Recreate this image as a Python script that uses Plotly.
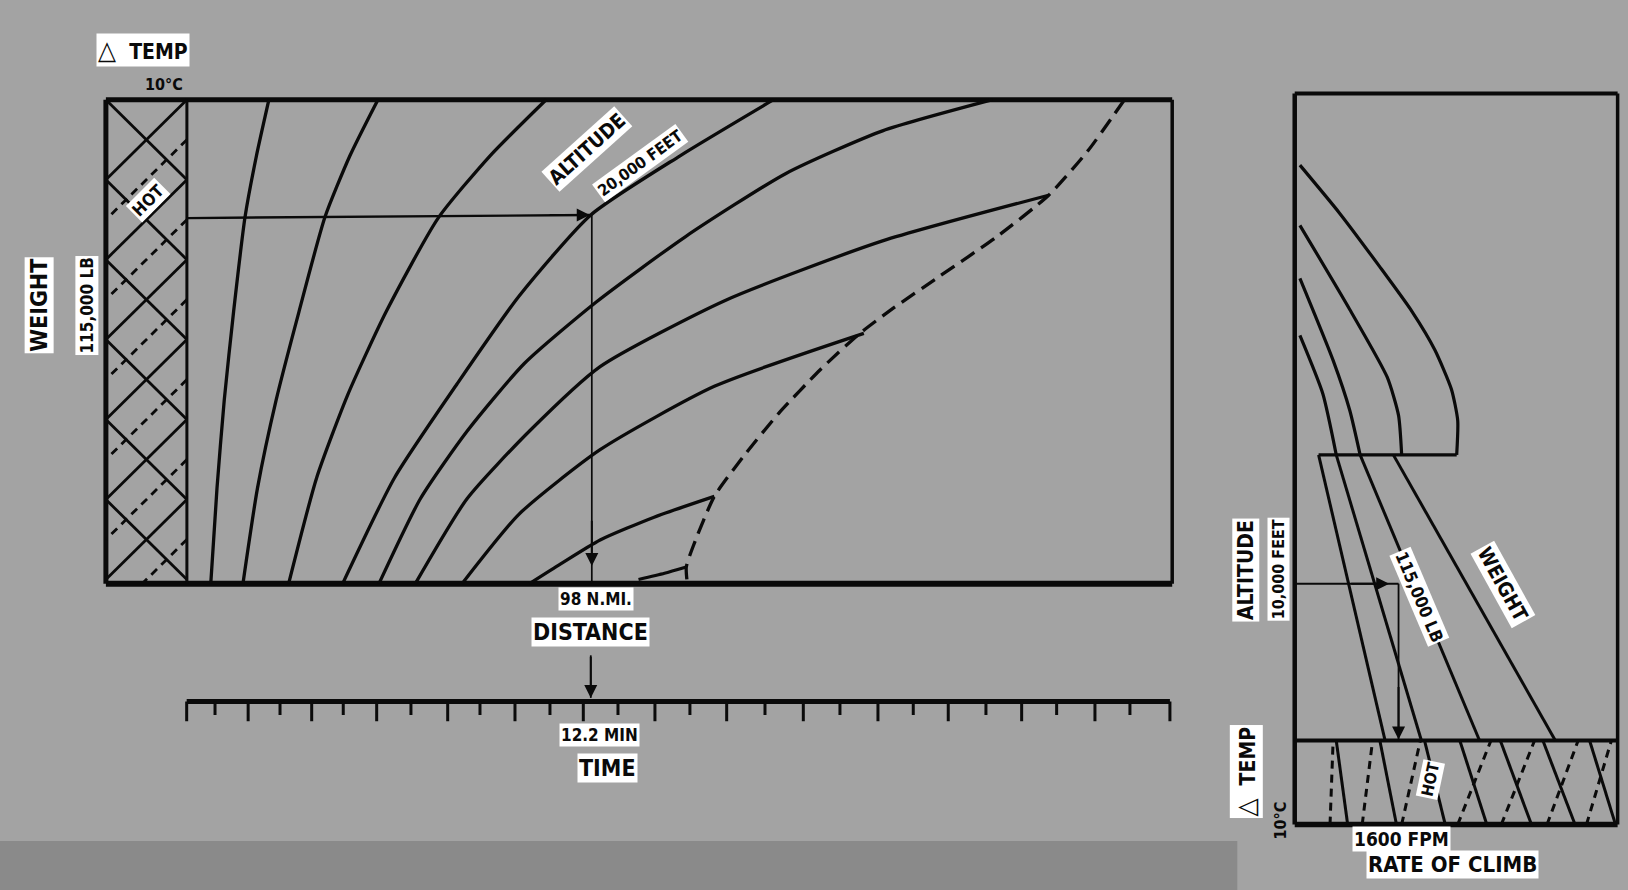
import plotly.graph_objects as go

BG = "#a3a3a3"
INK = "#0a0a0a"
FONT = "DejaVu Sans Condensed, Liberation Sans, Arial"

# ---------------- main chart (distance vs weight plane, picture units) ----------------
main_box_x = [102, 1129]
main_box_y = [96, 562]
temp_strip_x = [102, 180]
left_hatch_y = [96, 173, 250, 327, 404, 481, 558]      # where the hatch lines meet the strip edges

# altitude curves (solid), listed bottom -> top
c1_x = [203, 209, 216, 225, 236, 247, 259]
c1_y = [562, 470, 385, 300, 209, 150, 96]
c2_x = [234, 248, 266, 288, 313, 337, 364]
c2_y = [562, 470, 385, 300, 209, 150, 96]
c3_x = [278, 305, 335, 372, 422, 472, 526]
c3_y = [562, 460, 380, 300, 210, 150, 96]
c4_x = [330, 380, 440, 500, 569, 655, 745]
c4_y = [562, 460, 370, 285, 207, 150, 96]
c5_x = [365, 405, 450, 505, 574, 660, 757, 850, 956]
c5_y = [562, 480, 415, 350, 291, 228, 167, 126, 96]
c6_x = [400, 450, 510, 578, 699, 850, 1010]
c6_y = [562, 480, 415, 353, 289, 232, 188]
c7_x = [445, 500, 578, 688, 832]
c7_y = [562, 495, 433, 372, 321]
c8_x = [510, 540, 578, 630, 688]
c8_y = [562, 543, 520, 498, 478]
c9_x = [615, 640, 661]
c9_y = [558, 552, 546]
limit_x = [1083, 1048, 1010, 960, 905, 860, 827, 790, 750, 718, 688, 668, 661, 662]
limit_y = [96, 145, 188, 228, 266, 297, 322, 356, 398, 437, 478, 525, 546, 562]

# example path: weight -> altitude -> distance -> time
ex_weight_y = [210, 207]
ex_weight_x = [180, 568]
ex_dist_x = 570
dist_label_y = [631, 672]

# time scale
time_line_y = 675.5
time_ticks = [179.8, 207.1, 239.0, 269.7, 300.2, 330.6, 362.8, 395.8, 431.2, 462.3,
              496.0, 529.7, 561.8, 595.2, 630.8, 664.5, 699.9, 736.8, 773.7, 809.0,
              845.6, 879.6, 913.3, 949.6, 984.0, 1017.7, 1054.6, 1088.3, 1126.8]

# ---------------- right chart (rate of climb) ----------------
right_box_x = [1247, 1558]
right_box_y = [90, 794]
right_strip_top = 713
turn_y = 438
turn_x = [1270, 1403]
r1_x = [1252, 1290, 1329, 1360, 1382, 1398, 1404, 1403]
r1_y = [159, 205, 257, 300, 337, 375, 405, 438]
r2_x = [1252, 1300, 1336, 1347, 1350]
r2_y = [217, 298, 363, 400, 438]
r3_x = [1252, 1284, 1300, 1310]
r3_y = [268, 347, 395, 438]
r4_x = [1252, 1274, 1287]
r4_y = [323, 379, 438]
w_top_x = [1270, 1287, 1310, 1342]
w_bot_x = [1334, 1369, 1425, 1498]
strip_solid_top = [1287, 1329, 1372, 1406, 1445, 1486, 1531]
strip_solid_bot = [1298, 1345, 1392, 1432, 1475, 1517, 1556]
strip_dash_bot = [1281, 1312, 1350, 1404, 1446, 1490, 1528]
strip_dash_top = [1284, 1322, 1368, 1436, 1478, 1520, 1552]
ex_alt_y = 562
ex_roc_x = 1347

fig = go.Figure()


def line(x, y, w=2.6, dash="solid", spline=False):
    fig.add_trace(go.Scatter(
        x=x, y=y, mode="lines", hoverinfo="skip", showlegend=False,
        line=dict(color=INK, width=w, dash=dash, shape="spline" if spline else "linear",
                  smoothing=0.6)))


# main frame
bx0, bx1 = main_box_x
by0, by1 = main_box_y
line([bx0, bx1], [by0, by0], 5)
line([bx0, bx1], [by1, by1], 6)
line([bx0, bx0], [by0, by1], 5)
line([bx1, bx1], [by0, by1], 3.5)
line([temp_strip_x[1]] * 2, [by0, by1], 3)

# left temperature strip hatch
sx0, sx1 = temp_strip_x
for i in range(len(left_hatch_y) - 1):
    ya, yb = left_hatch_y[i], left_hatch_y[i + 1]
    if i % 2 == 0:
        line([sx0, sx1], [ya, yb], 2.8)
        line([sx1, sx0], [ya, yb], 2.8)
    else:
        line([sx1, sx0], [ya, yb], 2.8)
        line([sx0, sx1], [ya, yb], 2.8)
    ym = (ya + yb) / 2
    yn = min(ym + (yb - ya), by1)
    xn = sx1 - (yn - ym) / (yb - ya) * (sx1 - sx0)
    line([sx1, xn], [ym, yn], 2.8, dash="8px,6px")

# altitude curves
for cx, cy in [(c1_x, c1_y), (c2_x, c2_y), (c3_x, c3_y), (c4_x, c4_y), (c5_x, c5_y),
               (c6_x, c6_y), (c7_x, c7_y), (c8_x, c8_y), (c9_x, c9_y)]:
    line(cx, cy, 3.3, spline=True)
line(limit_x, limit_y, 3.3, dash="16px,8px", spline=True)

# example path in main chart
line(ex_weight_x, ex_weight_y, 2.4)
line([ex_dist_x, ex_dist_x], [ex_weight_y[1], by1], 1.7)

# time scale
line([time_ticks[0], time_ticks[-1]], [time_line_y, time_line_y], 5)
for i, t in enumerate(time_ticks):
    line([t, t], [time_line_y, time_line_y + (19 if i % 2 == 0 else 13)], 3)
line([ex_dist_x - 1, ex_dist_x - 1], dist_label_y, 1.7)

# right frame
rx0, rx1 = right_box_x
ry0, ry1 = right_box_y
line([rx0, rx1], [ry0, ry0], 4)
line([rx0, rx1], [ry1, ry1], 5.5)
line([rx0, rx0], [ry0, ry1], 4.5)
line([rx1, rx1], [ry0, ry1], 3.5)
line([rx0, rx1], [right_strip_top, right_strip_top], 4)

for cx, cy in [(r1_x, r1_y), (r2_x, r2_y), (r3_x, r3_y), (r4_x, r4_y)]:
    line(cx, cy, 3.2, spline=True)
line(turn_x, [turn_y, turn_y], 3.2)
for a, b in zip(w_top_x, w_bot_x):
    line([a, b], [turn_y, right_strip_top], 3)
for a, b in zip(strip_solid_top, strip_solid_bot):
    line([a, b], [right_strip_top, ry1], 3)
for a, b in zip(strip_dash_bot, strip_dash_top):
    line([a, b], [ry1, right_strip_top], 3, dash="8px,6px")

line([rx0, ex_roc_x], [ex_alt_y, ex_alt_y], 2)
line([ex_roc_x, ex_roc_x], [ex_alt_y, right_strip_top], 1.8)

# arrowheads
arrows = [
    (ex_weight_x[1], ex_weight_y[1], ex_weight_x[1] - 40, ex_weight_y[1]),
    (ex_dist_x, 545, ex_dist_x, 500),
    (ex_dist_x - 1, dist_label_y[1], ex_dist_x - 1, dist_label_y[0]),
    (1338, ex_alt_y, 1300, ex_alt_y),
    (ex_roc_x, 712, ex_roc_x, 660),
]
annos = []
for hx, hy, tx, ty in arrows:
    annos.append(dict(x=hx, y=hy, ax=tx, ay=ty, xref="x", yref="y", axref="x", ayref="y",
                      text="", showarrow=True, arrowhead=2, arrowsize=1.3, arrowwidth=2,
                      arrowcolor=INK, standoff=0))

TRI = "<span style='font-size:26px'>△</span>"
# labels (text, x, y, size, angle, white box)
labels = [
    (TRI + "  TEMP", 138, 48, 21, 0, True),
    ("10°C", 158, 81, 16, 0, False),
    ("WEIGHT", 38, 294, 23, -90, True),
    ("115,000 LB", 84, 294, 17, -90, True),
    ("HOT", 143, 193, 17, -45, True),
    ("ALTITUDE", 565, 143, 20, -42, True),
    ("20,000 FEET", 616, 157, 16, -36, True),
    ("98 N.MI.", 574, 577, 17, 0, True),
    ("DISTANCE", 569, 609, 23, 0, True),
    ("12.2 MIN", 577, 708, 17, 0, True),
    ("TIME", 585, 740, 23, 0, True),
    ("ALTITUDE", 1200, 549, 21, -90, True),
    ("10,000 FEET", 1231, 548, 16, -90, True),
    (TRI + "  TEMP", 1200, 743, 21, -90, True),
    ("10°C", 1233, 790, 16, -90, False),
    ("1600 FPM", 1350, 808, 19, 0, True),
    ("RATE OF CLIMB", 1399, 832, 22, 0, True),
    ("115,000 LB", 1367, 575, 17, 67, True),
    ("WEIGHT", 1448, 563, 20, 61, True),
    ("HOT", 1378, 751, 16, -78, True),
]
for t, x, y, s, ang, box in labels:
    annos.append(dict(x=x, y=y, xref="x", yref="y", text="<b>" + t + "</b>", showarrow=False,
                      textangle=ang, font=dict(family=FONT, size=s, color=INK),
                      bgcolor="white" if box else "rgba(0,0,0,0)", borderpad=1))

fig.update_layout(
    width=1628, height=890, margin=dict(l=0, r=0, t=0, b=0),
    paper_bgcolor=BG, plot_bgcolor=BG,
    xaxis=dict(range=[0, 1568], visible=False, fixedrange=True),
    yaxis=dict(range=[857, 0], visible=False, fixedrange=True),
    annotations=annos,
    shapes=[dict(type="rect", xref="paper", yref="paper", x0=0, x1=0.76, y0=0, y1=0.055,
                 fillcolor="#8a8a8a", line_width=0, layer="below")],
)
fig.write_html("out.html")
